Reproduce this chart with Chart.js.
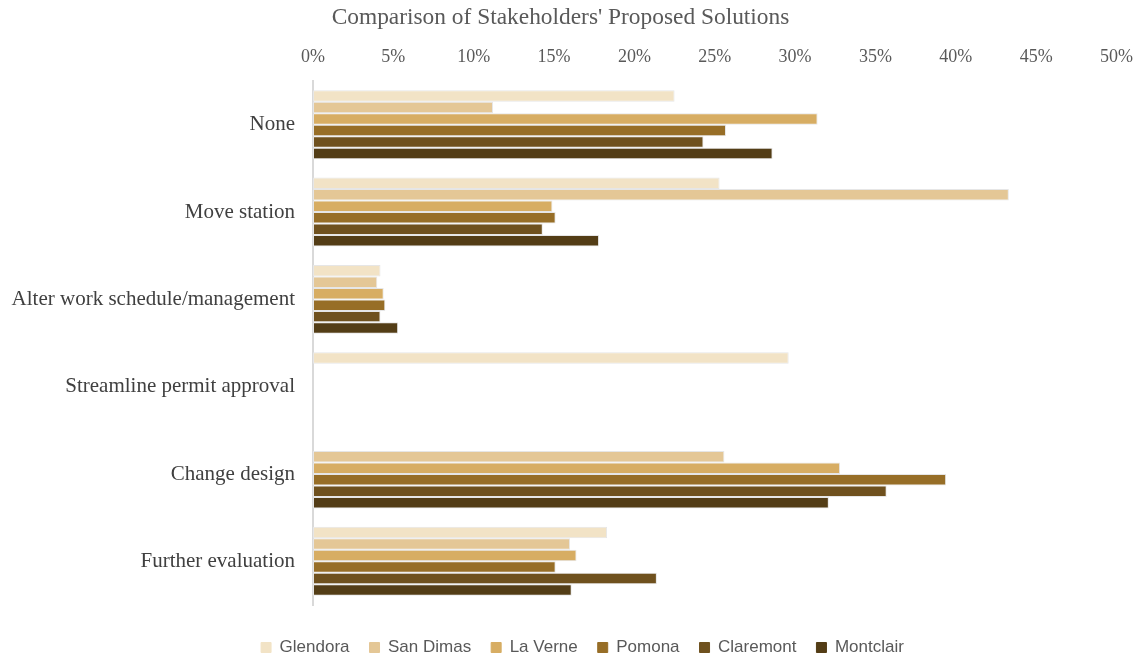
<!DOCTYPE html>
<html>
<head>
<meta charset="utf-8">
<title>Comparison of Stakeholders' Proposed Solutions</title>
<script src="https://cdn.jsdelivr.net/npm/chart.js@4/dist/chart.umd.min.js"></script>
<style>
  html, body { margin: 0; padding: 0; background: #fff; }
  #wrap { width: 1146px; height: 657px; }
</style>
</head>
<body>
<div id="wrap"><canvas id="solutions" width="1146" height="657"></canvas></div>
<script>
// Share of stakeholder responses per proposed solution, by city (percent)
const solutions = ['None', 'Move station', 'Alter work schedule/management', 'Streamline permit approval', 'Change design', 'Further evaluation'];
const cities = ['Glendora', 'San Dimas', 'La Verne', 'Pomona', 'Claremont', 'Montclair'];

const glendora  = [22.5, 25.3, 4.2, 29.6, 0,    18.3];
const sanDimas  = [11.2, 43.3, 4.0, 0,    25.6, 16.0];
const laVerne   = [31.4, 14.9, 4.4, 0,    32.8, 16.4];
const pomona    = [25.7, 15.1, 4.5, 0,    39.4, 15.1];
const claremont = [24.3, 14.3, 4.2, 0,    35.7, 21.4];
const montclair = [28.6, 17.8, 5.3, 0,    32.1, 16.1];

const xTicks = [0, 5, 10, 15, 20, 25, 30, 35, 40, 45, 50];

const seriesValues = [glendora, sanDimas, laVerne, pomona, claremont, montclair];
const palette = ['#F2E3C6', '#E4C796', '#D7AD63', '#976E27', '#6F511E', '#533D16'];

const serif = 'Liberation Serif, Times New Roman, serif';
const sans = 'Liberation Sans, Arial, sans-serif';

// legend sits on the bottom edge, nudged right, with the plot area height fixed
const legendPlacement = {
  id: 'legendPlacement',
  afterInit(chart) {
    const fit = chart.legend.fit;
    chart.legend.fit = function () {
      fit.call(this);
      this.height = 52;
    };
  },
  afterLayout(chart) {
    chart.legend.left += 22;
    chart.legend.right += 22;
  }
};

new Chart(document.getElementById('solutions'), {
  type: 'bar',
  data: {
    labels: solutions,
    datasets: cities.map((name, i) => ({
      label: name,
      data: seriesValues[i],
      backgroundColor: palette[i],
      borderColor: '#e6e6e6',
      borderWidth: ctx => (ctx.raw ? 1 : 0),
      borderSkipped: false,
      barPercentage: 1.0,
      categoryPercentage: 0.79
    }))
  },
  options: {
    indexAxis: 'y',
    responsive: false,
    animation: false,
    devicePixelRatio: 1,
    layout: { padding: { left: 0, right: 25, top: 0, bottom: 0 } },
    scales: {
      x: {
        position: 'top',
        min: 0,
        max: 50,
        afterBuildTicks: scale => { scale.ticks = xTicks.map(v => ({ value: v })); },
        afterFit: scale => { scale.height = 41; },
        grid: { display: false, drawTicks: false },
        border: { display: false },
        ticks: {
          padding: 13,
          color: '#595959',
          font: { family: serif, size: 18 },
          callback: v => v + '%'
        }
      },
      y: {
        afterFit: scale => { scale.width = 313; },
        grid: { display: false, drawTicks: false },
        border: { display: true, color: '#d9d9d9', width: 2 },
        ticks: {
          padding: 18,
          color: '#404040',
          font: { family: serif, size: 21 }
        }
      }
    },
    plugins: {
      title: {
        display: true,
        text: "Comparison of Stakeholders' Proposed Solutions",
        color: '#595959',
        font: { family: serif, size: 23.4, weight: 'normal' },
        padding: { top: 4, bottom: 8 }
      },
      legend: {
        position: 'bottom',
        title: { display: true, text: '', font: { size: 8, lineHeight: 1.25 }, padding: { top: 4, bottom: 0 } },
        labels: {
          boxWidth: 10,
          boxHeight: 10,
          padding: 20,
          color: '#595959',
          font: { family: sans, size: 17 },
          generateLabels: chart =>
            Chart.defaults.plugins.legend.labels.generateLabels(chart)
              .map(item => ({ ...item, strokeStyle: item.fillStyle, lineWidth: 1 }))
        }
      },
      tooltip: { enabled: false }
    }
  },
  plugins: [legendPlacement]
});
</script>
</body>
</html>
